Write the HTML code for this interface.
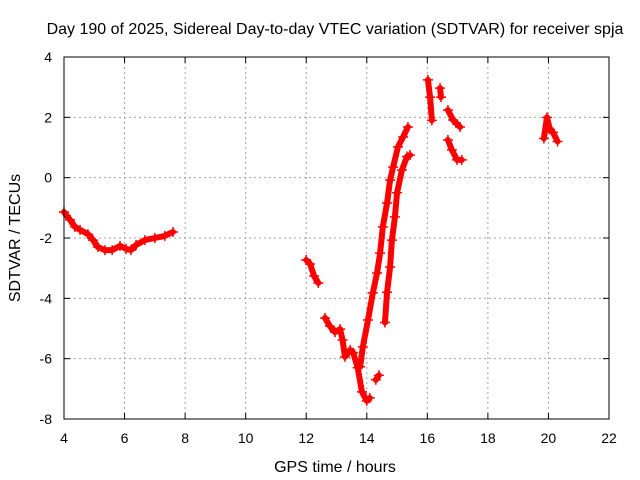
<!DOCTYPE html>
<html><head><meta charset="utf-8"><style>
body{margin:0;background:#fff;}
svg{display:block;font-family:"Liberation Sans",sans-serif;}
</style></head><body>
<svg id="chart" width="640" height="480">
<rect width="640" height="480" fill="#fff"/>
<text x="335" y="34" font-size="16" text-anchor="middle">Day 190 of 2025, Sidereal Day-to-day VTEC variation (SDTVAR) for receiver spja</text>
<text x="335" y="472" font-size="16" text-anchor="middle">GPS time / hours</text>
<text x="20" y="238" font-size="16" text-anchor="middle" transform="rotate(-90 20 238)">SDTVAR / TECUs</text>
<g id="grid"></g><g id="axes"></g><g id="marks"></g>
<rect x="64" y="57" width="545" height="362" fill="none" stroke="#000" stroke-width="1"/>
</svg>
<script>
const xTicks=[4,6,8,10,12,14,16,18,20,22];
const yTicks=[4,2,0,-2,-4,-6,-8];
const seg1T=[4.0,4.2,4.36,4.53,4.79,4.96,5.12,5.35,5.59,5.85,6.05,6.21,6.38,6.67,7.0,7.33,7.6];
const seg1V=[-1.14,-1.4,-1.63,-1.73,-1.87,-2.07,-2.3,-2.4,-2.4,-2.26,-2.36,-2.4,-2.23,-2.07,-2.0,-1.93,-1.8];
const seg2T=[12.0,12.13,12.26,12.4];
const seg2V=[-2.73,-2.86,-3.26,-3.49];
const seg3T=[12.62,12.78,12.95,13.12,13.2,13.28,13.45];
const seg3V=[-4.65,-4.92,-5.12,-5.02,-5.38,-5.94,-5.71];
const seg4T=[13.55,13.7,13.84,14.0,14.1];
const seg4V=[-5.8,-6.3,-7.1,-7.4,-7.3];
const seg5T=[14.3,14.4];
const seg5V=[-6.7,-6.55];
const seg6T=[13.78,13.87,14.04,14.2,14.34,14.44,14.53,14.67,14.77,14.87,15.03,15.2,15.36];
const seg6V=[-6.27,-5.61,-4.72,-3.82,-3.16,-2.5,-1.63,-0.84,-0.08,0.35,1.02,1.35,1.68];
const seg7T=[14.6,14.67,14.77,14.83,14.93,15.0,15.16,15.33,15.43];
const seg7V=[-4.8,-3.8,-2.96,-2.07,-1.3,-0.5,0.25,0.7,0.75];
const seg8T=[16.02,16.09,16.15];
const seg8V=[3.24,2.67,1.9];
const seg9T=[16.42,16.45];
const seg9V=[2.97,2.67];
const seg10T=[16.68,16.85,17.08];
const seg10V=[2.24,1.91,1.68];
const seg11T=[16.68,16.81,16.98,17.14];
const seg11V=[1.25,0.92,0.59,0.59];
const seg12T=[19.85,19.95,20.05,20.15,20.3];
const seg12V=[1.3,2.0,1.6,1.5,1.2];
const segments=[[seg1T,seg1V],[seg2T,seg2V],[seg3T,seg3V],[seg4T,seg4V],[seg5T,seg5V],[seg6T,seg6V],[seg7T,seg7V],[seg8T,seg8V],[seg9T,seg9V],[seg10T,seg10V],[seg11T,seg11V],[seg12T,seg12V]];

const X0=64,X1=609,Y0=419,Y1=57;
function xs(t){return X0+(t-4)/(22-4)*(X1-X0);}
function ys(v){return Y0-(v+8)/(12)*(Y0-Y1);}
const NS="http://www.w3.org/2000/svg";
function mk(tag,attrs,parent){const e=document.createElementNS(NS,tag);for(const k in attrs)e.setAttribute(k,attrs[k]);parent.appendChild(e);return e;}
const grid=document.getElementById('grid'),axes=document.getElementById('axes'),marks=document.getElementById('marks');
xTicks.forEach(t=>{
  const x=xs(t);
  if(t>4&&t<22){const g=mk('line',{x1:x,x2:x,y1:Y1,y2:Y0,stroke:'#a0a0a0','stroke-dasharray':'2,3'},grid);
  
  }
  const tk=mk('line',{x1:x,x2:x,y1:Y0,y2:Y0-6,stroke:'#000'},axes);
  
  
  const tk2=mk('line',{x1:x,x2:x,y1:Y1,y2:Y1+6,stroke:'#000'},axes);
  
  
  const l=mk('text',{x:x,y:443,'font-size':14,'text-anchor':'middle'},axes);l.textContent=t;
  
  
});
yTicks.forEach(v=>{
  const y=ys(v);
  if(v>-8&&v<4){const g=mk('line',{x1:X0,x2:X1,y1:y,y2:y,stroke:'#a0a0a0','stroke-dasharray':'2,3'},grid);
  
  }
  const tk=mk('line',{x1:X0,x2:X0+6,y1:y,y2:y,stroke:'#000'},axes);
  
  
  const tk2=mk('line',{x1:X1,x2:X1-6,y1:y,y2:y,stroke:'#000'},axes);
  
  
  const l=mk('text',{x:52,y:y+5,'font-size':14,'text-anchor':'end'},axes);l.textContent=v;
  
  
});
segments.forEach(([T,V])=>{
  const pts=T.map((t,i)=>xs(t)+','+ys(V[i])).join(' ');
  const pl=mk('polyline',{points:pts,fill:'none',stroke:'#ff0000','stroke-width':6,'stroke-linejoin':'round','stroke-linecap':'round'},marks);
  
  
  T.forEach((t,i)=>{
    const x=xs(t),y=ys(V[i]);
    const p=mk('path',{d:`M${x-5},${y}H${x+5}M${x},${y-5}V${y+5}`,stroke:'#ff0000','stroke-width':1.5},marks);
    
    
  });
});
</script>
</body></html>
